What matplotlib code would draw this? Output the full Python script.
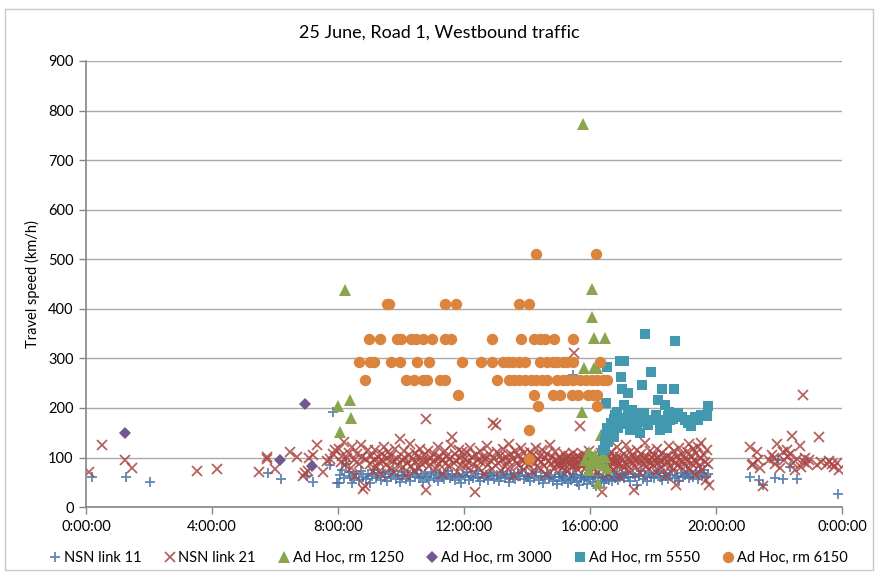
import matplotlib.pyplot as plt
from matplotlib.patches import Rectangle

plt.rcParams['font.family'] = ['Lato', 'DejaVu Sans']

# time of day in minutes after midnight, speed in km/h
t_link11 = [11, 76, 121, 346, 371, 420, 433, 465, 470, 478,
            481, 484, 488, 492, 496, 500, 503, 507, 511, 515, 519, 523, 528, 533, 537,
            541, 545, 549, 553, 557, 561, 565, 569, 573, 577, 581, 585, 590, 594, 598,
            602, 606, 610, 614, 618, 622, 626, 630, 634, 638, 642, 646, 650, 654, 658,
            662, 666, 670, 674, 678, 682, 686, 690, 694, 698, 702, 706, 710, 714, 718,
            722, 726, 730, 734, 738, 742, 746, 750, 754, 758, 762, 766, 770, 774, 778,
            782, 786, 790, 794, 798, 802, 806, 810, 814, 818, 822, 826, 830, 834, 838,
            842, 846, 850, 854, 858, 862, 866, 870, 874, 878, 882, 886, 890, 894, 898,
            900, 903, 906, 909, 912, 915, 918, 921, 924, 927, 928, 930, 933, 936, 939,
            942, 945, 948, 951, 954, 957,
            960, 963, 966, 969, 972, 975, 978, 981, 984, 987, 990, 993, 996, 999, 1002,
            1005, 1008, 1011, 1014, 1017,
            1021, 1025, 1029, 1033, 1037, 1041, 1045, 1049, 1053, 1057, 1061, 1065, 1069, 1073, 1077,
            1081, 1085, 1089, 1093, 1097, 1101, 1105, 1109, 1113, 1117, 1121, 1125, 1129, 1133, 1137,
            1141, 1145, 1149, 1153, 1157, 1161, 1165, 1169, 1173, 1177, 1181, 1185,
            1265, 1281, 1290, 1313, 1318, 1328, 1341, 1354, 1433]
v_link11 = [61, 60, 51, 68, 56, 62, 51, 85, 192, 49,
            49, 65, 75, 58, 88, 71, 62, 48, 58, 67, 54, 72, 61, 57, 66,
            48, 63, 75, 59, 68, 55, 70, 61, 52, 66, 60, 73, 56, 64, 50,
            62, 71, 57, 65, 53, 68, 60, 74, 58, 63, 51, 67, 60, 55, 70,
            59, 64, 52, 69, 61, 56, 66, 73, 58, 63, 54, 67, 61, 49, 65,
            60, 70, 55, 63, 58, 72, 61, 52, 66, 59, 64, 54, 69, 62, 57,
            65, 53, 61, 71, 58, 64, 50, 67, 60, 56, 68, 62, 75, 57, 63,
            60, 52, 66, 58, 71, 55, 63, 48, 60, 68, 57, 64, 53, 61, 46,
            60, 66, 52, 63, 57, 70, 49, 61, 55, 67, 266, 58, 63, 50, 45,
            59, 65, 54, 60, 47, 62,
            56, 64, 51, 60, 42, 58, 67, 53, 61, 49, 57, 63, 55, 70, 52,
            62, 58, 66, 54, 60,
            65, 58, 70, 61, 53, 67, 60, 44, 63, 72, 57, 64, 52, 68, 61,
            58, 66, 72, 60, 54, 69, 62, 57, 65, 74, 59, 63, 53, 68, 61,
            64, 71, 58, 66, 61, 73, 56, 68, 62, 75, 60, 67,
            61, 54, 44, 58, 95, 56, 81, 56, 26]

t_link21 = [6, 30, 74, 87, 212, 249, 330, 344, 345, 360, 389, 401, 413, 417, 423, 425, 433, 439,
            452, 459, 465, 470, 474,
            482, 485, 488, 491, 494, 497, 500, 504, 507, 510, 513, 516, 520, 523, 526, 527, 531, 534, 537,
            541, 543, 546, 548, 551, 553, 556, 558, 561, 563, 566, 568, 571, 574, 576, 579, 581, 584,
            587, 589, 592, 595, 598,
            601, 603, 605, 608, 610, 612, 615, 617, 619, 622, 624, 627, 629, 632, 634, 637, 639, 642,
            644, 647, 648, 649, 652, 654, 657,
            661, 663, 666, 668, 671, 673, 675, 678, 680, 683, 685, 688, 690, 692, 695, 697, 700, 702,
            705, 707, 710, 712, 715, 717,
            721, 723, 726, 728, 731, 733, 736, 738, 741, 743, 746, 748, 751, 753, 756, 758, 761, 763,
            766, 768, 771, 773, 776, 778, 781, 783,
            785, 788, 790, 793, 795, 798, 800, 803, 805, 808, 810, 813, 815, 818, 820, 823, 825, 828,
            830, 833, 835, 838,
            841, 843, 845, 848, 850, 852, 855, 857, 860, 862, 864, 867, 869, 872, 874, 876, 879, 881,
            884, 886, 888, 891, 893, 895, 898,
            900, 902, 903, 905, 907, 908, 910, 912, 913, 915, 917, 918, 920, 922, 923, 925, 927, 928,
            930, 931, 932, 933, 935, 937, 938, 940, 941, 942, 944, 946, 947, 949, 950, 952, 953, 955,
            956, 958, 959,
            960, 961, 963, 964, 966, 967, 969, 970, 972, 973, 975, 976, 978, 979, 981, 982, 984, 985,
            987, 988, 990, 991, 993, 994, 996, 997, 999, 1000, 1002, 1003, 1005, 1006, 1008, 1009,
            1011, 1012, 1014, 1015, 1017, 1018,
            1020, 1022, 1024, 1026, 1028, 1030, 1032, 1034, 1036, 1038, 1040, 1042, 1044, 1046, 1048,
            1050, 1052, 1054, 1056, 1058, 1060, 1062, 1064, 1066, 1068, 1070, 1072, 1074, 1076, 1078,
            1080, 1082, 1084, 1086, 1088, 1090, 1092, 1094, 1096, 1098, 1100, 1102, 1104, 1106, 1108,
            1110, 1112, 1114, 1116, 1118, 1120, 1122, 1124, 1126, 1128, 1130, 1132, 1134, 1136, 1138,
            1140, 1142, 1144, 1146, 1148, 1150, 1152, 1154, 1156, 1158, 1160, 1162, 1164, 1166, 1168,
            1170, 1172, 1174, 1177, 1179, 1181, 1183, 1185, 1186,
            1265, 1268, 1271, 1278, 1280, 1284, 1290, 1300, 1306, 1310, 1313, 1316, 1322, 1328, 1330,
            1335, 1338, 1341, 1344, 1347, 1351, 1355, 1360, 1362, 1366, 1368, 1370, 1373, 1377, 1392,
            1396, 1400, 1411, 1415, 1421, 1425, 1430, 1435]
v_link21 = [71, 125, 96, 79, 73, 77, 70, 101, 97, 76, 112, 102, 62, 68, 72, 100, 105, 125,
            71, 93, 98, 108, 115,
            118, 92, 104, 131, 86, 99, 110, 78, 121, 95, 63, 108, 88, 125, 101, 36, 42, 97, 115,
            88, 104, 73, 96, 116, 82, 101, 91, 67, 108, 94, 122, 85, 99, 112, 79, 103, 93,
            70, 117, 98, 86, 137,
            95, 81, 113, 99, 64, 90, 106, 127, 84, 97, 73, 110, 92, 101, 78, 118, 88, 96,
            105, 35, 177, 93, 114, 83, 100,
            91, 108, 76, 99, 121, 87, 102, 95, 67, 113, 90, 104, 82, 98, 126, 142, 89, 107,
            94, 71, 116, 100, 85, 111,
            97, 83, 109, 92, 119, 74, 101, 88, 31, 105, 95, 79, 114, 91, 102, 66, 97, 123,
            86, 108, 93, 77, 170, 99, 166, 112,
            89, 104, 72, 96, 117, 84, 101, 93, 128, 80, 107, 98, 62, 113, 90, 103, 86, 119,
            95, 75, 109, 92,
            100, 85, 112, 94, 70, 106, 89, 120, 97, 79, 103, 91, 115, 84, 99, 66, 108, 93,
            125, 88, 101, 76, 111, 95, 86,
            92, 84, 101, 96, 78, 89, 107, 94, 86, 99, 72, 91, 104, 88, 97, 81, 110, 93,
            310, 86, 100, 95, 76, 90, 103, 163, 87, 98, 83, 94, 108, 89, 97, 79, 92, 101,
            86, 95, 113,
            90, 84, 99, 93, 77, 105, 88, 96, 82, 101, 91, 70, 98, 87, 109, 31, 80, 103,
            92, 85, 118, 97, 89, 66, 101, 93, 84, 112, 95, 88, 74, 104, 91, 99,
            83, 121, 94, 87, 102, 60,
            96, 81, 107, 90, 125, 85, 99, 72, 111, 93, 87, 104, 34, 96, 80,
            116, 91, 100, 68, 108, 88, 97, 130, 84, 102, 93, 77, 113, 90, 99,
            86, 105, 95, 70, 118, 89, 101, 93, 79, 110, 87, 98, 63, 104, 92,
            124, 84, 100, 95, 75, 113, 90, 44, 102, 86, 119, 96, 81, 107, 91,
            99, 84, 112, 93, 127, 76, 103, 88, 118, 95, 65, 109, 91, 122, 83,
            100, 130, 74, 105, 92, 54, 115, 88, 44,
            122, 85, 88, 112, 96, 78, 42, 95, 105, 100, 88, 128, 78, 112, 95,
            115, 104, 108, 143, 90, 75, 98, 123, 80, 226, 91, 100, 88, 95, 85,
            141, 92, 88, 93, 88, 80, 90, 75]

t_rm1250 = [479, 484, 493, 502, 505,
            945, 947, 949, 951, 958, 958, 960, 964, 964, 964, 968, 968, 970, 973, 974,
            975, 980, 982, 985, 985, 989, 989, 992]
v_rm1250 = [204, 152, 439, 217, 180,
            191, 773, 280, 95, 112, 75, 88, 440, 384, 100, 341, 280, 105, 91, 280,
            49, 145, 101, 85, 122, 342, 101, 79]

t_rm3000 = [74, 369, 418, 431]
v_rm3000 = [150, 95, 209, 83]

t_rm5550 = [985, 989, 989, 991, 991, 992, 993, 995, 998, 1000, 1005, 1005, 1008, 1011, 1011,
            1014, 1017, 1019, 1021, 1021, 1024, 1025, 1025, 1028, 1033, 1033, 1036, 1040, 1043,
            1047, 1049, 1054, 1055, 1059, 1062, 1065, 1065, 1070, 1076, 1081, 1085, 1090, 1093,
            1095, 1098, 1100, 1103, 1106, 1108, 1111, 1113, 1118, 1120, 1122, 1128, 1135, 1140,
            1147, 1152, 1160, 1166, 1172, 1182, 1184]
v_rm5550 = [115, 118, 135, 211, 145, 159, 283, 132, 149, 170, 177, 142, 185, 192, 162,
            159, 295, 263, 238, 180, 176, 295, 206, 168, 231, 189, 155, 195, 176,
            180, 162, 189, 149, 246, 190, 350, 172, 165, 273, 176, 185, 217, 155,
            176, 238, 170, 206, 159, 183, 192, 176, 178, 238, 336, 190, 182, 175,
            170, 163, 182, 176, 186, 184, 205]

t_rm6150 = [857, 971,
            573, 577, 684, 704, 825, 844,
            539, 559, 592, 600, 619, 628, 641, 659, 684, 695, 773, 829, 853, 865, 874, 892, 927,
            519, 540, 549, 580, 598, 630, 654, 716, 752, 773, 795, 804, 814, 825, 836, 865, 879,
            889, 898, 908, 917, 927, 979,
            531, 610, 625, 641, 649, 674, 683, 782, 806, 815, 825, 836, 847, 858, 868, 879, 898,
            908, 917, 927, 940, 953, 963, 973, 984, 992,
            709, 853, 889, 902, 925, 938, 957, 966, 974,
            860, 974, 843, 844]
v_rm6150 = [510, 510,
            410, 410, 410, 410, 410, 410,
            340, 340, 340, 340, 340, 340, 340, 340, 340, 340, 340, 340, 340, 340, 340, 340, 340,
            292, 292, 292, 292, 292, 292, 292, 292, 292, 292, 292, 292, 292, 292, 292, 292, 292,
            292, 292, 292, 292, 292, 292,
            256, 256, 256, 256, 256, 256, 256, 256, 256, 256, 256, 256, 256, 256, 256, 256, 256,
            256, 256, 256, 256, 256, 256, 256, 256, 256,
            227, 227, 227, 227, 227, 227, 227, 227, 227,
            205, 205, 156, 97]

x_ticks = [0, 240, 480, 720, 960, 1200, 1440]
x_tick_labels = ['0:00:00', '4:00:00', '8:00:00', '12:00:00', '16:00:00', '20:00:00', '0:00:00']
y_ticks = [0, 100, 200, 300, 400, 500, 600, 700, 800, 900]

fig = plt.figure(figsize=(8.78, 5.75), dpi=100)
ax = fig.add_axes([0.098, 0.118, 0.861, 0.776])

ax.plot(t_link11, v_link11, ls='none', marker='+', ms=7.5, mew=1.3, color='#4572A7',
        alpha=0.85, label='NSN link 11')
ax.plot(t_link21, v_link21, ls='none', marker='x', ms=7.5, mew=1.3, color='#AA4643',
        alpha=0.85, label='NSN link 21')
ax.plot(t_rm1250, v_rm1250, ls='none', marker='^', ms=8.5, mew=0, color='#89A54E',
        label='Ad Hoc, rm 1250')
ax.plot(t_rm3000, v_rm3000, ls='none', marker='D', ms=6.0, mew=0, color='#71588F',
        label='Ad Hoc, rm 3000')
ax.plot(t_rm5550, v_rm5550, ls='none', marker='s', ms=7.2, mew=0, color='#4198AF',
        label='Ad Hoc, rm 5550')
ax.plot(t_rm6150, v_rm6150, ls='none', marker='o', ms=8.2, mew=0, color='#DB843D',
        label='Ad Hoc, rm 6150')

ax.set_xlim(0, 1440)
ax.set_ylim(0, 900)
ax.set_xticks(x_ticks)
ax.set_xticklabels(x_tick_labels)
ax.set_yticks(y_ticks)
ax.tick_params(axis='both', labelsize=10.5, color='#868686', length=5, width=1, pad=4)
ax.grid(axis='y', color='#A9A9A9', lw=1)
ax.set_axisbelow(True)
for side in ['top', 'right']:
    ax.spines[side].set_visible(False)
for side in ['left', 'bottom']:
    ax.spines[side].set_color('#868686')
    ax.spines[side].set_linewidth(1.2)

ax.set_ylabel('Travel speed (km/h)', fontsize=10.5, labelpad=6)
fig.text(0.5, 0.944, '25 June, Road 1, Westbound traffic', ha='center', va='center', fontsize=13)

fig.legend(loc='center', bbox_to_anchor=(0.51, 0.03), ncol=6, frameon=False, fontsize=10.5,
           handletextpad=0.1, columnspacing=1.45, handlelength=1.0, markerscale=1.0)

# light frame round the whole chart
fig.patches.append(Rectangle((0.006, 0.009), 0.988, 0.975, transform=fig.transFigure,
                             fill=False, edgecolor='#C8C8C8', lw=1))

fig.savefig('out.png', dpi=100)
